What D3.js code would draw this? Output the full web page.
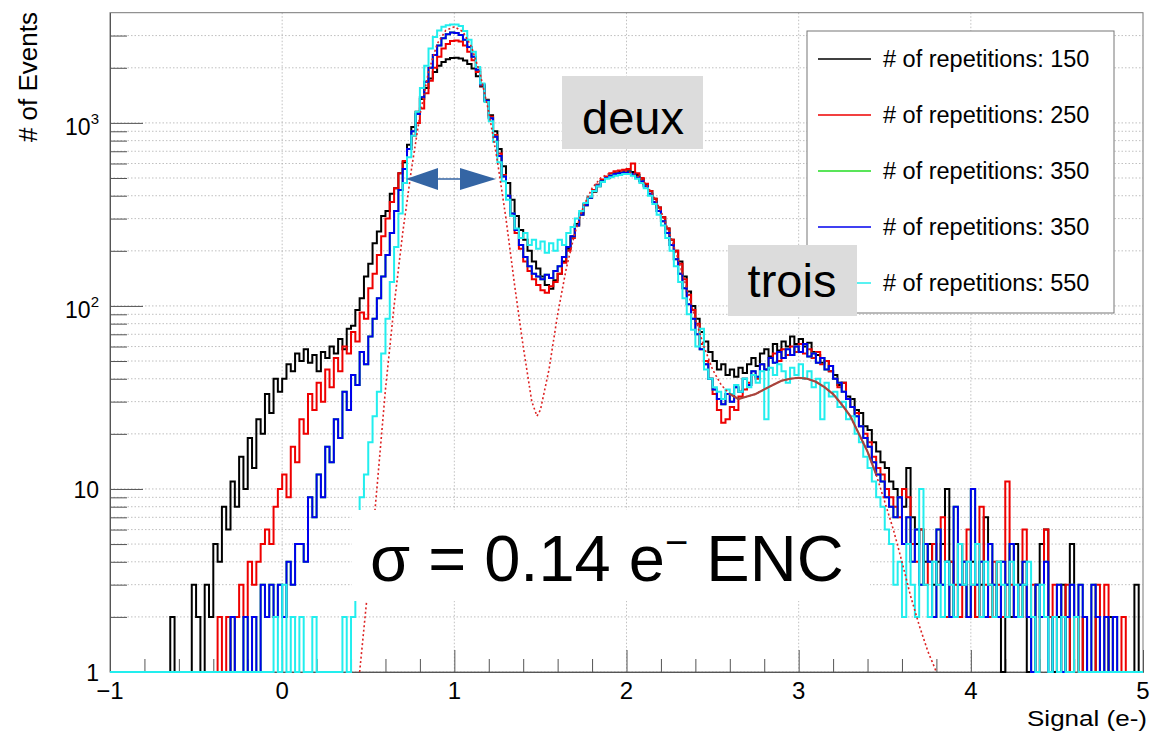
<!DOCTYPE html>
<html>
<head>
<meta charset="utf-8">
<script src="https://cdn.jsdelivr.net/npm/d3@7"></script>
<style>
  body { margin: 0; background: #fff; }
  text { font-family: "Liberation Sans", Arial, sans-serif; fill: #000; }
</style>
</head>
<body>
<svg width="1159" height="732"></svg>
<script>
'use strict'; //strict mode

//histogram binning: 240 bins of 0.025 e- from -1 to 5 (one row = one unit)
var binStart = -1, binWidth = 0.025;

var counts150 = [
  0,0,0,0,0,0,0,0,0,0, 0,0,0,0,2,0,1,0,1,3, 2,1,3,2,5,4,8,6,11,8, 15,10,19,13,24,20,33,26,40,34,
  40,48,44,55,50,58,49,54,44,56, 52,60,55,66,58,75,78,95,110,145, 170,220,255,310,330,410,440,530,610,760, 950,1150,1350,1550,1750,1900,2050,2150,2230,2260,
  2270,2250,2190,2100,1980,1800,1580,1340,1100,900, 720,580,470,380,310,260,230,200,175,160, 145,130,124,138,150,175,205,240,280,320, 360,390,420,450,480,500,515,530,540,545,
  545,540,520,495,460,425,385,345,305,265, 230,200,175,145,120,100,85,72,64,56, 50,45,48,42,45,41,46,43,48,52, 47,55,58,53,62,57,64,60,68,62,
  66,60,63,56,54,49,50,44,42,37, 38,32,31,27,26,22,21,18,16,14, 13,11,10,9,8,13,7,5,6,4, 5,3,4,5,10,4,2,5,3,2,
  4,2,3,7,3,2,4,1,3,2, 5,2,3,1,2,3,5,6,2,1, 2,3,1,5,2,1,2,1,0,2, 1,0,2,1,0,0,0,0,3,0
];
var counts250 = [
  0,0,0,0,0,0,0,0,0,0, 0,0,0,0,0,0,0,0,0,0, 0,0,0,0,1,2,1,2,1,2, 3,2,4,3,4,5,6,5,8,10,
  12,9,17,14,24,20,33,27,38,30, 45,36,52,44,60,55,72,64,92,85, 125,150,190,240,300,370,440,530,620,720, 850,1000,1200,1450,1700,2000,2300,2550,2700,2800,
  2820,2780,2650,2450,2200,1900,1600,1320,1080,860, 680,520,400,310,250,205,175,155,140,130, 122,118,128,135,150,172,200,235,275,315, 355,395,430,460,490,510,530,545,550,555,
  560,600,530,500,465,425,385,345,305,265, 230,200,170,140,115,95,80,62,50,40, 33,27,23,24,28,27,32,35,38,42, 40,48,45,52,55,50,58,54,60,56,
  62,55,58,52,56,48,50,44,40,36, 38,31,28,26,22,20,18,15,13,12, 10,9,8,7,10,9,5,4,6,3, 4,5,3,7,2,4,3,2,4,6,
  3,2,8,3,2,4,3,2,11,3, 2,3,6,2,3,1,2,6,2,3, 1,2,3,1,2,1,2,0,1,3, 0,3,1,0,0,2,0,0,0,0
];
var counts350b = [
  0,0,0,0,0,0,0,0,0,0, 0,0,0,0,0,0,0,0,0,0, 0,0,0,0,0,0,0,1,2,1, 1,2,1,2,1,3,2,3,2,3,
  2,4,3,5,5,4,9,7,12,9, 17,14,24,19,34,27,42,37,56,48, 68,85,110,145,190,250,330,430,560,720, 900,1120,1380,1680,2000,2350,2650,2900,3050,3120,
  3100,3020,2850,2600,2300,1950,1620,1320,1060,840, 660,510,400,320,260,215,185,165,150,145, 140,148,142,155,165,185,210,240,275,315, 355,390,425,455,480,500,515,525,530,535,
  535,525,505,480,450,410,370,330,290,250, 215,180,150,125,102,85,70,58,48,40, 35,31,29,33,30,36,34,40,37,44, 41,48,45,52,49,56,52,58,54,60,
  56,62,53,55,49,52,45,47,40,38, 34,31,28,25,22,19,17,14,12,11, 9,8,7,9,5,7,4,6,3,5, 4,2,6,3,4,2,8,3,4,2,
  10,3,4,2,5,3,2,4,3,5, 2,3,4,2,1,3,2,4,1,2, 3,1,2,3,2,3,2,1,3,2, 0,2,0,2,1,0,0,0,0,0
];
var counts350a = counts350b; //green run: never visible, it sits under the blue one
var counts550 = [
  0,0,0,0,0,0,0,0,0,0, 0,0,0,0,0,0,0,0,0,0, 0,0,0,0,0,0,1,0,1,0, 1,1,0,1,1,0,1,1,2,1,
  3,1,2,1,2,1,1,2,1,0, 1,1,1,1,2,1,2,4,9,12, 18,25,34,55,85,135,210,320,470,650, 850,1150,1550,2050,2550,2950,3200,3350,3420,3450,
  3450,3380,3180,2850,2450,2020,1640,1300,1020,790, 610,480,380,310,265,235,250,215,230,205, 225,195,220,200,230,215,250,270,300,330, 365,395,425,450,475,495,505,515,520,525,
  525,515,495,470,440,400,360,315,275,235, 200,165,135,110,90,74,60,75,45,40, 36,34,31,35,33,37,34,40,36,42, 38,44,24,46,42,48,44,38,46,42,
  48,40,44,36,40,24,38,32,34,28, 30,24,25,20,18,15,13,11,9,8, 6,5,3,4,2,5,3,2,10,3, 2,4,3,2,4,3,2,5,3,4,
  3,5,2,4,3,2,4,3,2,4, 3,2,3,4,2,1,3,2,1,2, 1,2,1,0,2,1,0,1,0,1, 0,0,1,0,0,0,0,0,0,0
];

var seriesNames = ['# of repetitions: 150', '# of repetitions: 250', '# of repetitions: 350', '# of repetitions: 350', '# of repetitions: 550'];
var seriesColors = ['#000000', '#ee0000', '#22dd22', '#0000ee', '#22eeee'];
var seriesCounts = [counts150, counts250, counts350a, counts350b, counts550];

//fit curve
var fitX = [0.45,0.5,0.55,0.6,0.65,0.7,0.75,0.8,0.85,0.9,0.95,1.0,1.05,1.1,1.15,1.2,1.25,1.3,1.35,1.4,1.45,1.48,1.5,1.55,1.6,1.65,1.7,1.75,1.8,1.85,1.9,1.95,
            2.0,2.05,2.1,2.15,2.2,2.25,2.3,2.35,2.4,2.45,2.5,2.55,2.6,2.65,2.7,2.75,2.8,2.85,2.9,2.95,3.0,3.05,3.1,3.15,3.2,3.25,3.3,3.35,3.4,3.45,3.5,3.55,3.6,3.65,3.7,3.75,3.8];
var fitY = [1,3,10,35,100,250,550,1100,1900,2700,3200,3350,3150,2600,1850,1150,620,300,130,60,30,25,27,45,90,160,250,350,440,500,530,545,
            545,525,480,410,330,250,180,125,85,60,45,37,33,31,32,33,35,37,39,40,40.5,40,38.5,36,33,29,25,20,16,12,8.5,6,4,2.6,1.8,1.3,1];
var fitSolidFrom = 2.6, fitSolidTo = 3.45;

var xMajor = [-1,0,1,2,3,4,5];
var xLabels = ['\u22121','0','1','2','3','4','5'];
var yMajor = [1,10,100,1000];
var yLabelBase = ['1','10','10','10'];
var yLabelExp = ['','','2','3'];

var svg = d3.select('svg');
var x = d3.scaleLinear().domain([-1,5]).range([110,1143]);
var y = d3.scaleLog().domain([1,4000]).range([672,12.7]);

//minor ticks
var yMinor = [];
[1,10,100,1000].forEach(function(d){
  for(var k=2;k<=9;k++){ if(k*d<4000) yMinor.push(k*d); }
});
var xMinor = d3.range(-10,51,2).map(function(v){return v/10;}).filter(function(v){return Math.abs(v-Math.round(v))>1e-6;});

//grid
var grid = svg.append('g').attr('stroke','#b0b0b0').attr('stroke-width',0.8).attr('stroke-dasharray','1.5,2');
grid.selectAll('line.gy').data(yMajor.concat(yMinor)).enter().append('line')
  .attr('x1',110).attr('x2',1143).attr('y1',function(d){return y(d);}).attr('y2',function(d){return y(d);});
grid.selectAll('line.gx').data(xMajor.slice(1,-1)).enter().append('line')
  .attr('y1',12.7).attr('y2',672).attr('x1',function(d){return x(d);}).attr('x2',function(d){return x(d);});

//frame
svg.append('rect').attr('x',110).attr('y',12.7).attr('width',1033).attr('height',659.3)
  .attr('fill','none').attr('stroke','#777').attr('stroke-width',1);

//axes
var yAxisMajor = d3.axisLeft(y).tickValues(yMajor).tickFormat('').tickSizeInner(-33).tickSizeOuter(0);
var yAxisMinor = d3.axisLeft(y).tickValues(yMinor).tickFormat('').tickSizeInner(-17).tickSizeOuter(0);
var xAxisMajor = d3.axisBottom(x).tickValues(xMajor).tickFormat('').tickSizeInner(-22).tickSizeOuter(0);
var xAxisMinor = d3.axisBottom(x).tickValues(xMinor).tickFormat('').tickSizeInner(-13).tickSizeOuter(0);
[yAxisMajor,yAxisMinor].forEach(function(ax){
  svg.append('g').attr('transform','translate(110,0)').call(ax);
});
[xAxisMajor,xAxisMinor].forEach(function(ax){
  svg.append('g').attr('transform','translate(0,672)').call(ax);
});
svg.selectAll('.domain').attr('stroke','#555');
svg.selectAll('.tick line').attr('stroke','#555');

//histograms (drawn over the axis line, like the original)
svg.append('clipPath').attr('id','plotclip').append('rect').attr('x',110).attr('y',12.7).attr('width',1034).attr('height',661);
var histLine = d3.line()
  .x(function(d){return x(d[0]);})
  .y(function(d){return y(Math.max(d[1],1));})
  .curve(d3.curveStepAfter);
var plot = svg.append('g').attr('clip-path','url(#plotclip)');
seriesCounts.forEach(function(counts, s){
  var pts = counts.map(function(c,i){return [binStart+i*binWidth, c];});
  pts.push([binStart+counts.length*binWidth, counts[counts.length-1]]);
  plot.append('path').attr('d',histLine(pts)).attr('fill','none')
    .attr('stroke',seriesColors[s]).attr('stroke-width',2);
});

//fit
var fitPts = fitX.map(function(v,i){return [v,fitY[i]];});
var fitLine = d3.line().x(function(d){return x(d[0]);}).y(function(d){return y(d[1]);});
plot.append('path').attr('d',fitLine(fitPts)).attr('fill','none')
  .attr('stroke','#dd2222').attr('stroke-width',1.6).attr('stroke-dasharray','2,2.5');
plot.append('path').attr('d',fitLine(fitPts.filter(function(p){return p[0]>=fitSolidFrom-1e-6 && p[0]<=fitSolidTo+1e-6;})))
  .attr('fill','none').attr('stroke','#a8443c').attr('stroke-width',2.2);

//tick labels
yMajor.forEach(function(v,i){
  var t = svg.append('text').attr('x',99).attr('y',y(v)+(yLabelExp[i]?12:9))
    .attr('text-anchor','end').style('font-size','23px');
  t.append('tspan').text(yLabelBase[i]);
  if(yLabelExp[i]) t.append('tspan').attr('dy',-11).style('font-size','15px').text(yLabelExp[i]);
});
xMajor.forEach(function(v,i){
  svg.append('text').attr('x',x(v)).attr('y',699).attr('text-anchor','middle')
    .style('font-size','24px').text(xLabels[i]);
});

//axis titles
svg.append('text').attr('x',1027).attr('y',726)
  .attr('textLength',120).attr('lengthAdjust','spacingAndGlyphs')
  .style('font-size','22px').text('Signal (e-)');
svg.append('text').attr('transform','translate(37,12) rotate(-90)').attr('text-anchor','end')
  .style('font-size','26px').text('# of Events');

//legend
var legend = svg.append('g');
legend.append('rect').attr('x',807).attr('y',31).attr('width',307).attr('height',282)
  .attr('fill','#fff').attr('stroke','#777').attr('stroke-width',1);
seriesNames.forEach(function(name,i){
  var ly = 59 + i*56;
  legend.append('line').attr('x1',818).attr('x2',871).attr('y1',ly).attr('y2',ly)
    .attr('stroke',seriesColors[i]).attr('stroke-width',1.5);
  legend.append('text').attr('x',883).attr('y',ly+8).style('font-size','23.5px').text(name);
});

//annotations
svg.append('rect').attr('x',562).attr('y',76).attr('width',141).attr('height',73).attr('fill','#dcdcdc');
svg.append('text').attr('x',633).attr('y',134).attr('text-anchor','middle').style('font-size','47px').text('deux');
svg.append('rect').attr('x',728).attr('y',245).attr('width',129).attr('height',71).attr('fill','#dcdcdc');
svg.append('text').attr('x',792).attr('y',297).attr('text-anchor','middle').style('font-size','47px').text('trois');

svg.append('rect').attr('x',352).attr('y',510).attr('width',518).attr('height',91).attr('fill','#fff');
var sig = svg.append('text').attr('x',370).attr('y',581).style('font-size','65px');
sig.append('tspan').text('\u03c3 = 0.14 e');
sig.append('tspan').attr('dy',-25).style('font-size','40px').text('\u2212');
sig.append('tspan').attr('dy',25).text(' ENC');

//double arrow
var arrowColor = '#3465a4';
svg.append('line').attr('x1',437).attr('x2',460).attr('y1',179).attr('y2',179)
  .attr('stroke',arrowColor).attr('stroke-width',1.5);
svg.append('path').attr('d','M406,179 L438,168 L438,190 Z').attr('fill',arrowColor);
svg.append('path').attr('d','M496,179 L460,168 L460,190 Z').attr('fill',arrowColor);
</script>
</body>
</html>
